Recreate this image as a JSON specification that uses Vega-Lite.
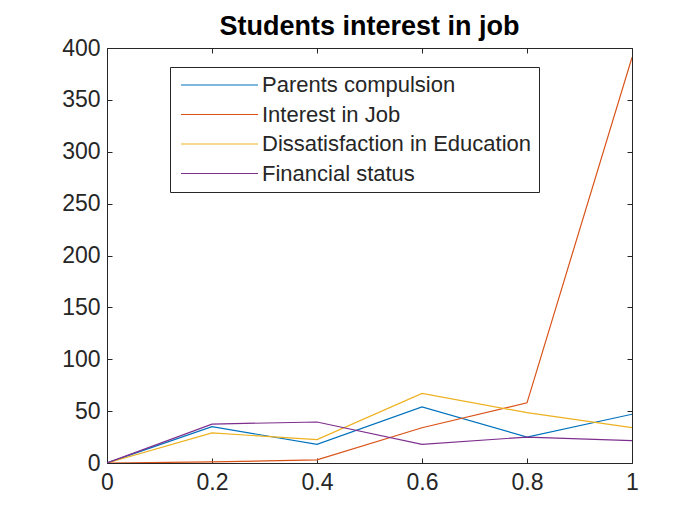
{
  "$schema": "https://vega.github.io/schema/vega-lite/v6.json",
  "autosize": "none",
  "width": 525,
  "height": 415,
  "padding": {"left": 107, "top": 48, "right": 52, "bottom": 52},
  "background": "white",
  "title": {
    "text": "Students interest in job",
    "font": "Liberation Sans",
    "fontSize": 27,
    "fontWeight": "bold",
    "color": "#000000",
    "anchor": "middle",
    "baseline": "alphabetic",
    "offset": -25
  },
  "config": {
    "view": {"stroke": null},
    "axis": {
      "grid": false,
      "domainColor": "#262626",
      "domainWidth": 1,
      "tickColor": "#262626",
      "tickWidth": 1,
      "labelFont": "Liberation Sans",
      "labelFontSize": 23,
      "labelColor": "#262626",
      "title": null
    },
    "legend": {
      "orient": "none",
      "legendX": 63,
      "legendY": 19,
      "strokeColor": "#262626",
      "fillColor": "white",
      "padding": 7,
      "labelFont": "Liberation Sans",
      "labelFontSize": 22,
      "labelColor": "#262626",
      "labelLimit": 400,
      "labelOffset": 63,
      "rowPadding": 7.5,
      "symbolType": "M-1.4,0H14",
      "symbolSize": 100,
      "symbolStrokeWidth": 1.2,
      "title": null
    }
  },
  "data": {
    "values": [
      {"series": "Parents compulsion", "x": 0, "y": 0},
      {"series": "Parents compulsion", "x": 0.2, "y": 35},
      {"series": "Parents compulsion", "x": 0.4, "y": 18},
      {"series": "Parents compulsion", "x": 0.6, "y": 54},
      {"series": "Parents compulsion", "x": 0.8, "y": 25},
      {"series": "Parents compulsion", "x": 1, "y": 47},
      {"series": "Interest in Job", "x": 0, "y": 0},
      {"series": "Interest in Job", "x": 0.2, "y": 1},
      {"series": "Interest in Job", "x": 0.4, "y": 3},
      {"series": "Interest in Job", "x": 0.6, "y": 34},
      {"series": "Interest in Job", "x": 0.8, "y": 58},
      {"series": "Interest in Job", "x": 1, "y": 391},
      {"series": "Dissatisfaction in Education", "x": 0, "y": 0},
      {"series": "Dissatisfaction in Education", "x": 0.2, "y": 29},
      {"series": "Dissatisfaction in Education", "x": 0.4, "y": 22.5},
      {"series": "Dissatisfaction in Education", "x": 0.6, "y": 67},
      {"series": "Dissatisfaction in Education", "x": 0.8, "y": 48.5},
      {"series": "Dissatisfaction in Education", "x": 1, "y": 34},
      {"series": "Financial status", "x": 0, "y": 0},
      {"series": "Financial status", "x": 0.2, "y": 37.5},
      {"series": "Financial status", "x": 0.4, "y": 39.5},
      {"series": "Financial status", "x": 0.6, "y": 18},
      {"series": "Financial status", "x": 0.8, "y": 25},
      {"series": "Financial status", "x": 1, "y": 21.5}
    ]
  },
  "layer": [
    {
      "mark": {"type": "line", "strokeWidth": 1.2, "clip": true},
      "encoding": {
        "x": {
          "field": "x", "type": "quantitative",
          "scale": {"domain": [0, 1], "nice": false, "zero": false},
          "axis": {"orient": "bottom", "values": [0, 0.2, 0.4, 0.6, 0.8, 1], "format": "~g", "tickSize": -5, "labelPadding": 13, "labelFlush": false}
        },
        "y": {
          "field": "y", "type": "quantitative",
          "scale": {"domain": [0, 400], "nice": false},
          "axis": {"orient": "left", "values": [0, 50, 100, 150, 200, 250, 300, 350, 400], "tickSize": -5, "labelPadding": 12, "labelFlush": false}
        },
        "color": {
          "field": "series", "type": "nominal",
          "scale": {
            "domain": ["Parents compulsion", "Interest in Job", "Dissatisfaction in Education", "Financial status"],
            "range": ["#0072BD", "#D95319", "#EDB120", "#7E2F8E"]
          },
          "sort": null
        },
        "order": {"field": "x"}
      }
    },
    {
      "mark": {"type": "line", "strokeWidth": 0, "opacity": 0},
      "encoding": {
        "x": {
          "field": "x", "type": "quantitative",
          "scale": {"domain": [0, 1], "nice": false, "zero": false},
          "axis": {"orient": "top", "values": [0, 0.2, 0.4, 0.6, 0.8, 1], "tickSize": -5, "labels": false}
        },
        "y": {
          "field": "y", "type": "quantitative",
          "scale": {"domain": [0, 400], "nice": false},
          "axis": {"orient": "right", "values": [0, 50, 100, 150, 200, 250, 300, 350, 400], "tickSize": -5, "labels": false}
        },
        "detail": {"field": "series"}
      }
    }
  ],
  "resolve": {"axis": {"x": "independent", "y": "independent"}}
}
